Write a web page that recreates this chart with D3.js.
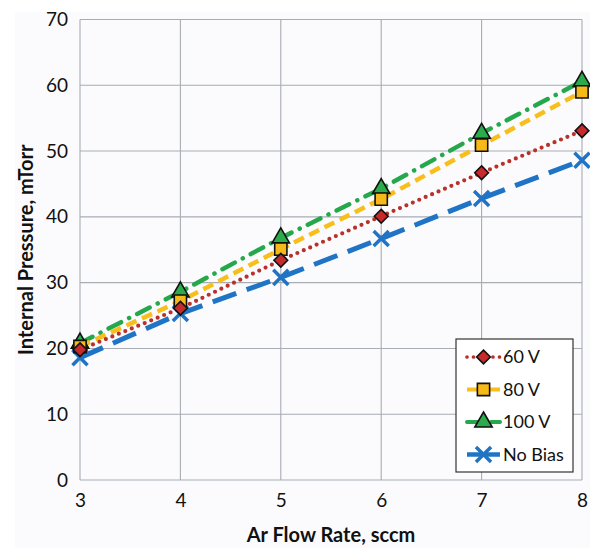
<!DOCTYPE html>
<html>
<head>
<meta charset="utf-8">
<script src="https://cdn.jsdelivr.net/npm/d3@7"></script>
<style>
  body { margin: 0; background: #fff; }
  text { font-family: Lato, "Open Sans", sans-serif; fill: #111; }
</style>
</head>
<body>
<div id="chart"></div>
<script>
const flowRates = [3, 4, 5, 6, 7, 8]
const yTicks = [0, 10, 20, 30, 40, 50, 60, 70]

const v60 = [19.8, 26.1, 33.4, 40.1, 46.7, 53.1]
const v80 = [20.3, 27.2, 35.1, 42.7, 50.9, 59.0]
const v100 = [20.8, 28.6, 36.8, 44.3, 52.7, 60.6]
const vNoBias = [18.6, 25.3, 30.8, 36.7, 42.8, 48.6]

const series = [
  { name: '60 V', values: v60, color: '#b8322c', fill: '#c62a2a', dash: '0,7', width: 4.2, symbol: 'diamond' },
  { name: '80 V', values: v80, color: '#f8bf1c', fill: '#f7b918', dash: '11,6', width: 4.5, symbol: 'square' },
  { name: '100 V', values: v100, color: '#25a84b', fill: '#2bab4c', dash: '14,9,0.1,9', width: 4.5, symbol: 'triangle' },
  { name: 'No Bias', values: vNoBias, color: '#1f74c6', fill: '#1f74c6', dash: '25,11', width: 5, symbol: 'x' }
]

const margin = { top: 19.5, right: 8, bottom: 68, left: 80 }
const W = 590
const H = 548
const width = W - margin.left - margin.right
const height = H - margin.top - margin.bottom

const svg = d3.select('#chart')
  .append('svg')
  .attr('width', W)
  .attr('height', H)

// faint panel behind the figure
svg.append('rect')
  .attr('x', 15).attr('y', 12)
  .attr('width', W - 15).attr('height', H - 12)
  .attr('fill', '#fbfbfd')

const x = d3.scaleLinear().domain([3, 8]).range([0, width])
const y = d3.scaleLinear().domain([0, 70]).range([height, 0])

const g = svg.append('g')
  .attr('transform', `translate(${margin.left}, ${margin.top})`)

// grid
g.append('g')
  .selectAll('line')
  .data(yTicks)
  .join('line')
  .attr('x1', 0).attr('x2', width)
  .attr('y1', (d) => y(d)).attr('y2', (d) => y(d))
  .attr('stroke', '#a7adb3')
  .attr('stroke-width', 1.1)

g.append('g')
  .selectAll('line')
  .data(flowRates)
  .join('line')
  .attr('y1', 0).attr('y2', height)
  .attr('x1', (d) => x(d)).attr('x2', (d) => x(d))
  .attr('stroke', '#a7adb3')
  .attr('stroke-width', 1.1)

// axes (labels only)
const xAxis = g.append('g')
  .attr('transform', `translate(0, ${height})`)
  .call(d3.axisBottom(x).tickValues(flowRates).tickFormat(d3.format('d')).tickSize(0).tickPadding(14))
xAxis.select('.domain').remove()
xAxis.selectAll('text').style('font-size', '19px').attr('fill', '#111')

const yAxis = g.append('g')
  .call(d3.axisLeft(y).tickValues(yTicks).tickSize(0).tickPadding(12))
yAxis.select('.domain').remove()
yAxis.selectAll('text').style('font-size', '19px').attr('fill', '#111')

svg.append('text')
  .attr('x', margin.left + width / 2)
  .attr('y', 542)
  .attr('text-anchor', 'middle')
  .style('font-size', '20px')
  .style('font-weight', 'bold')
  .text('Ar Flow Rate, sccm')

svg.append('text')
  .attr('transform', `translate(33, ${margin.top + height / 2}) rotate(-90)`)
  .attr('text-anchor', 'middle')
  .style('font-size', '20px')
  .style('font-weight', 'bold')
  .text('Internal Pressure, mTorr')

const symbolTypes = {
  diamond: d3.symbolDiamond2 || d3.symbolDiamond,
  square: d3.symbolSquare,
  triangle: d3.symbolTriangle,
  x: d3.symbolTimes || d3.symbolX
}

function drawMarker(sel, s) {
  if (s.symbol === 'x') {
    sel.append('path')
      .attr('d', d3.symbol().type(symbolTypes.x).size(150)())
      .attr('fill', 'none')
      .attr('stroke', s.color)
      .attr('stroke-width', 3.5)
  } else {
    const size = s.symbol === 'diamond' ? 120 : s.symbol === 'square' ? 150 : 130
    sel.append('path')
      .attr('d', d3.symbol().type(symbolTypes[s.symbol]).size(size)())
      .attr('fill', s.fill)
      .attr('stroke', '#111')
      .attr('stroke-width', 1.6)
  }
}

const line = d3.line()
  .x((d, i) => x(flowRates[i]))
  .y((d) => y(d))

const lines = g.append('g')
series.slice().reverse().forEach((s) => {
  lines.append('path')
    .datum(s.values)
    .attr('d', line)
    .attr('fill', 'none')
    .attr('stroke', s.color)
    .attr('stroke-width', s.width)
    .attr('stroke-dasharray', s.dash)
    .attr('stroke-linecap', s.symbol === 'diamond' || s.symbol === 'triangle' ? 'round' : 'butt')
})

const markers = g.append('g')
series.slice().reverse().forEach((s) => {
  s.values.forEach((v, i) => {
    const m = markers.append('g')
      .attr('transform', `translate(${x(flowRates[i])}, ${y(v)})`)
    drawMarker(m, s)
  })
})

// legend
const legend = svg.append('g').attr('transform', 'translate(456, 339)')
legend.append('rect')
  .attr('width', 117).attr('height', 133)
  .attr('fill', '#fff')
  .attr('stroke', '#333')
  .attr('stroke-width', 1.2)

series.forEach((s, i) => {
  const row = legend.append('g').attr('transform', `translate(0, ${18 + i * 32.5})`)
  row.append('line')
    .attr('x1', 11).attr('x2', 44)
    .attr('stroke', s.color)
    .attr('stroke-width', s.width - 0.5)
    .attr('stroke-dasharray', s.symbol === 'diamond' ? '0,6.5' : s.symbol === 'triangle' ? '12,6,0.1,6' : null)
    .attr('stroke-linecap', s.symbol === 'diamond' || s.symbol === 'triangle' ? 'round' : 'butt')
  const m = row.append('g').attr('transform', 'translate(27.5, 0)')
  drawMarker(m, s)
  row.append('text')
    .attr('x', 47)
    .attr('dy', '0.35em')
    .style('font-size', '18px')
    .text(s.name)
})
</script>
</body>
</html>
